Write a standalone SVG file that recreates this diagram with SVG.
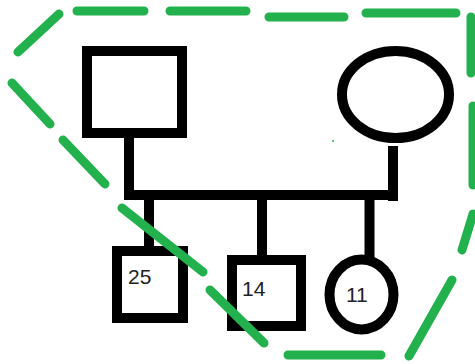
<svg xmlns="http://www.w3.org/2000/svg" width="475" height="364" viewBox="0 0 475 364">
<style>
.shape{fill:#fff;stroke:#000;stroke-width:10}
.conn{stroke:#000;stroke-width:10;fill:none;stroke-linecap:butt}
.grp{stroke:#22b14c;stroke-width:9;fill:none;stroke-linecap:round}
.lbl{font-family:"Liberation Sans",Arial,sans-serif;font-size:21px;fill:#222}
</style>
<rect width="475" height="364" fill="#fff"/>
<g id="connectors">
<path class="conn" d="M129,133V200 M124,195H398 M393,146V201 M149,195V248 M262,195V255 M369.5,195V257"/>
</g>
<g id="father"><rect class="shape" x="87" y="51" width="95" height="82"/></g>
<g id="mother"><ellipse class="shape" cx="395.5" cy="94.5" rx="53.5" ry="43.5"/></g>
<g id="child25"><rect class="shape" x="117" y="251" width="66" height="67"/><text class="lbl" x="128" y="284">25</text></g>
<g id="child14"><rect class="shape" x="232" y="260" width="69" height="66"/><text class="lbl" x="242" y="296">14</text></g>
<g id="child11"><ellipse class="shape" cx="361.5" cy="294.5" rx="32" ry="35"/><text class="lbl" x="346" y="302">11</text></g>
<g id="household">
<path class="grp" d="M18,52L59,14 M77,11H144 M170,11H246 M269,17H344 M366,13H456 M471,17V73 M473,106V185 M473,214L462,250 M452,280L409,356 M288,355H381 M264,343L210,290 M203,272L122,208 M105,184L63,140 M50,124L12,83"/>
<circle cx="333" cy="141" r="1" fill="#22b14c"/>
</g>
</svg>
